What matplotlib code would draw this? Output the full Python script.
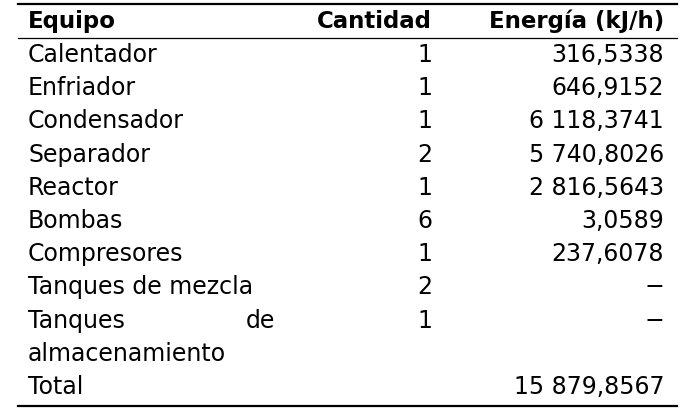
import matplotlib
matplotlib.use("Agg")
import matplotlib.pyplot as plt

headers = ["Equipo", "Cantidad", "Energía (kJ/h)"]
equipos = ["Calentador", "Enfriador", "Condensador", "Separador", "Reactor", "Bombas",
           "Compresores", "Tanques de mezcla", "Tanques de almacenamiento", "Total"]
cantidades = ["1", "1", "1", "2", "1", "6", "1", "2", "1", ""]
energias = ["316,5338", "646,9152", "6 118,3741", "5 740,8026", "2 816,5643", "3,0589",
            "237,6078", "−", "−", "15 879,8567"]

W, H = 696, 412
fig = plt.figure(figsize=(W/100, H/100), dpi=100)
ax = fig.add_axes([0, 0, 1, 1])
ax.set_xlim(0, W); ax.set_ylim(H, 0); ax.axis("off")

fam = "DejaVu Sans"
fs = 17
x_eq, x_cant, x_en = 28, 432, 664
ax.text(x_eq, 21, headers[0], fontsize=fs - 0.5, fontweight="bold", va="center", family=fam)
ax.text(x_cant, 21, headers[1], fontsize=fs - 0.5, fontweight="bold", va="center", ha="right", family=fam)
ax.text(x_en, 21, headers[2], fontsize=fs - 0.5, fontweight="bold", va="center", ha="right", family=fam)

ax.plot([18, 677], [4, 4], color="black", lw=1.6)
ax.plot([18, 677], [38, 38], color="black", lw=0.9)
ax.plot([18, 677], [406, 406], color="black", lw=1.6)

y = 55
step = 33.2
for eq, c, e in zip(equipos, cantidades, energias):
    if eq == "Tanques de almacenamiento":
        ax.text(x_eq, y, "Tanques", fontsize=fs, va="center", family=fam)
        ax.text(275, y, "de", fontsize=fs, va="center", ha="right", family=fam)
        ax.text(x_eq, y + step, "almacenamiento", fontsize=fs, va="center", family=fam)
    else:
        ax.text(x_eq, y, eq, fontsize=fs, va="center", family=fam)
    ax.text(x_cant, y, c, fontsize=fs, va="center", ha="right", family=fam)
    ax.text(x_en, y, e, fontsize=fs, va="center", ha="right", family=fam)
    y += 2 * step if eq == "Tanques de almacenamiento" else step

fig.savefig("out.png", dpi=100, facecolor="white")
